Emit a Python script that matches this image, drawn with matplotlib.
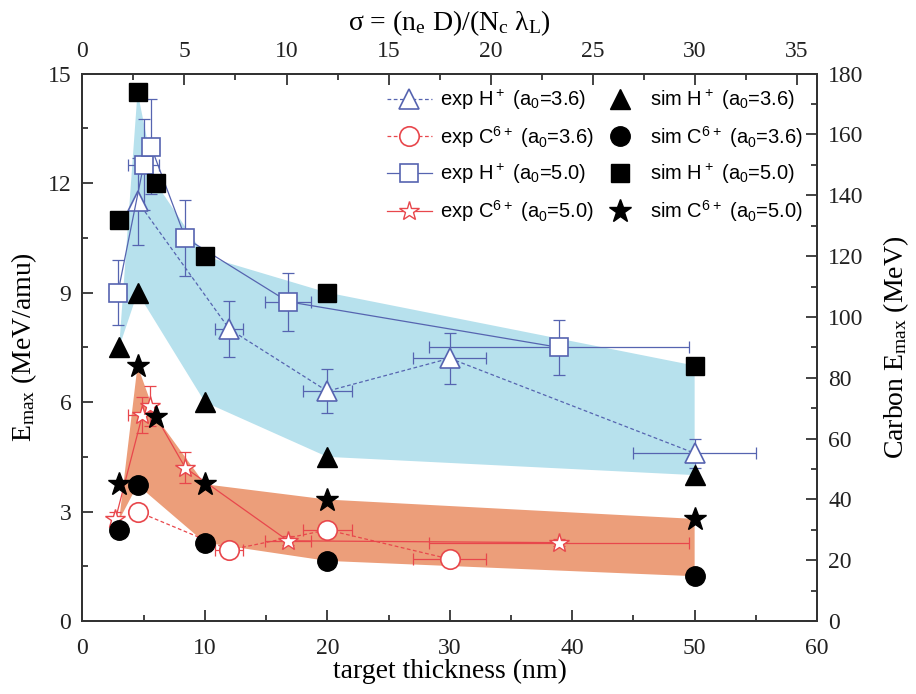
import numpy as np
import matplotlib
matplotlib.use("Agg")
import matplotlib.pyplot as plt
from matplotlib.ticker import MultipleLocator

# simulation points (black markers)
sim_x_50 = [3, 4.5, 6, 10, 20, 50]
sim_h_50 = [11.0, 14.5, 12.0, 10.0, 9.0, 7.0]
sim_c_50 = [3.75, 7.0, 5.6, 3.75, 3.33, 2.8]
sim_x_36 = [3, 4.5, 10, 20, 50]
sim_h_36 = [7.5, 9.0, 6.0, 4.5, 4.0]
sim_c_36 = [2.5, 3.73, 2.15, 1.65, 1.23]

# experimental H+ points
exp_h36_x = [4.5, 12, 20, 30, 50]
exp_h36_y = [11.5, 8.0, 6.3, 7.2, 4.6]
exp_h36_xerr = [0, 1.15, 2.0, 3.0, 5.0]
exp_h36_yerr = [1.2, 0.77, 0.6, 0.7, 0.4]

exp_h50_x = [2.9, 5.0, 5.6, 8.4, 16.8, 38.9]
exp_h50_y = [9.0, 12.5, 13.0, 10.5, 8.75, 7.5]
exp_h50_xerr = [0, 1.25, 0, 0, 1.9, 10.6]
exp_h50_yerr = [0.9, 1.25, 1.3, 1.05, 0.8, 0.75]

# experimental carbon points
exp_c36_x = [4.5, 12, 20, 30]
exp_c36_y = [3.0, 1.95, 2.5, 1.7]
exp_c36_xerr = [0, 1.15, 2.0, 3.0]

exp_c50_x = [2.7, 4.9, 5.5, 8.4, 16.8, 38.9]
exp_c50_y = [2.8, 5.65, 5.9, 4.2, 2.2, 2.15]
exp_c50_xerr = [0, 1.2, 0, 0, 1.9, 10.6]
exp_c50_yerr = [0.2, 0.5, 0.55, 0.42, 0.12, 0.1]

# shaded bands (upper edge, lower edge)
h_band_up = [7.5, 14.5, 12.0, 10.0, 9.0, 7.0]
h_band_lo = [7.5, 9.0, 6.0, 4.5, 4.0]
c_band_up = [2.77, 7.0, 5.6, 3.75, 3.33, 2.8]
c_band_lo = [2.77, 3.73, 2.15, 1.65, 1.23]

plt.rcParams['font.family'] = 'Liberation Serif'
plt.rcParams['mathtext.default'] = 'regular'

blue_band = '#b7e1ed'
orange_band = '#ec9e7a'
hcol = '#5664b0'
ccol = '#e8474c'

fig = plt.figure(figsize=(9.16, 6.94), dpi=100)
ax = fig.add_axes([0.090, 0.105, 0.802, 0.789])

# bands
ax.fill(np.concatenate([sim_x_50, sim_x_36[::-1]]),
        np.concatenate([h_band_up, h_band_lo[::-1]]),
        color=blue_band, lw=0, zorder=1)
ax.fill(np.concatenate([sim_x_50, sim_x_36[::-1]]),
        np.concatenate([c_band_up, c_band_lo[::-1]]),
        color=orange_band, lw=0, zorder=1)

# error bars
eb = dict(fmt='none', elinewidth=0.9, capsize=4, capthick=0.9, zorder=2)
ax.errorbar(exp_h36_x, exp_h36_y, xerr=exp_h36_xerr, yerr=exp_h36_yerr, ecolor=hcol, **eb)
ax.errorbar(exp_h50_x, exp_h50_y, xerr=exp_h50_xerr, yerr=exp_h50_yerr, ecolor=hcol, **eb)
ax.errorbar(exp_c36_x, exp_c36_y, xerr=exp_c36_xerr, ecolor=ccol, **eb)
ax.errorbar(exp_c50_x, exp_c50_y, xerr=exp_c50_xerr, yerr=exp_c50_yerr, ecolor=ccol, **eb)

# experimental lines + open markers
ax.plot(exp_h36_x, exp_h36_y, ls=(0, (3, 2)), lw=0.9, color=hcol, marker='^', ms=15,
        mfc='white', mec=hcol, mew=1.2, zorder=3, label='exp H$^+$ (a$_0$=3.6)')
ax.plot(exp_c36_x, exp_c36_y, ls=(0, (3, 2)), lw=0.9, color=ccol, marker='o', ms=14,
        mfc='white', mec=ccol, mew=1.2, zorder=3, label='exp C$^{6+}$ (a$_0$=3.6)')
ax.plot(exp_h50_x, exp_h50_y, ls='-', lw=0.9, color=hcol, marker='s', ms=13,
        mfc='white', mec=hcol, mew=1.2, zorder=3, label='exp H$^+$ (a$_0$=5.0)')
ax.plot(exp_c50_x, exp_c50_y, ls='-', lw=0.9, color=ccol, marker='*', ms=15,
        mfc='white', mec=ccol, mew=1.0, zorder=3, label='exp C$^{6+}$ (a$_0$=5.0)')

# simulation markers
ax.plot(sim_x_36, sim_h_36, ls='none', marker='^', ms=15, color='black', zorder=4,
        label='sim H$^+$ (a$_0$=3.6)')
ax.plot(sim_x_36, sim_c_36, ls='none', marker='o', ms=14, color='black', zorder=4,
        label='sim C$^{6+}$ (a$_0$=3.6)')
ax.plot(sim_x_50, sim_h_50, ls='none', marker='s', ms=13, color='black', zorder=4,
        label='sim H$^+$ (a$_0$=5.0)')
ax.plot(sim_x_50, sim_c_50, ls='none', marker='*', ms=17, color='black', zorder=4,
        label='sim C$^{6+}$ (a$_0$=5.0)')

ax.set_xlim(0, 60)
ax.set_ylim(0, 15)
ax.xaxis.set_major_locator(MultipleLocator(10))
ax.xaxis.set_minor_locator(MultipleLocator(5))
ax.yaxis.set_major_locator(MultipleLocator(3))
ax.yaxis.set_minor_locator(MultipleLocator(1.5))

# top axis
axt = ax.twiny()
axt.set_xlim(0, 36)
axt.xaxis.set_major_locator(MultipleLocator(5))
axt.xaxis.set_minor_locator(MultipleLocator(2.5))

# right axis
axr = ax.twinx()
axr.set_ylim(0, 180)
axr.yaxis.set_major_locator(MultipleLocator(20))
axr.yaxis.set_minor_locator(MultipleLocator(10))

for a in (ax, axt, axr):
    a.tick_params(which='both', direction='in', labelsize=17, colors='#222222', pad=8)
    a.tick_params(which='major', length=8, width=1.2)
    a.tick_params(which='minor', length=4, width=1.2)
    for s in a.spines.values():
        s.set_linewidth(1.4)
        s.set_color('#333333')
ax.tick_params(top=False, right=False)
ax.tick_params(axis='x', pad=12)

ax.set_xlabel('target thickness (nm)', fontsize=20, labelpad=0)
ax.set_ylabel('E$_{max}$ (MeV/amu)', fontsize=20, labelpad=6)
axt.set_xlabel('σ = (n$_e$ D)/(N$_c$ λ$_L$)', fontsize=20, labelpad=8)
axr.set_ylabel('Carbon E$_{max}$ (MeV)', fontsize=20, labelpad=13)

leg = ax.legend(ncol=2, loc='upper right', bbox_to_anchor=(1.0, 1.0), frameon=False,
                prop={'family': 'Liberation Sans', 'size': 14.5}, handlelength=2.2,
                columnspacing=0.2, labelspacing=0.6, handletextpad=0.4,
                borderaxespad=0.3, numpoints=1)

fig.savefig('out.png', dpi=100)
